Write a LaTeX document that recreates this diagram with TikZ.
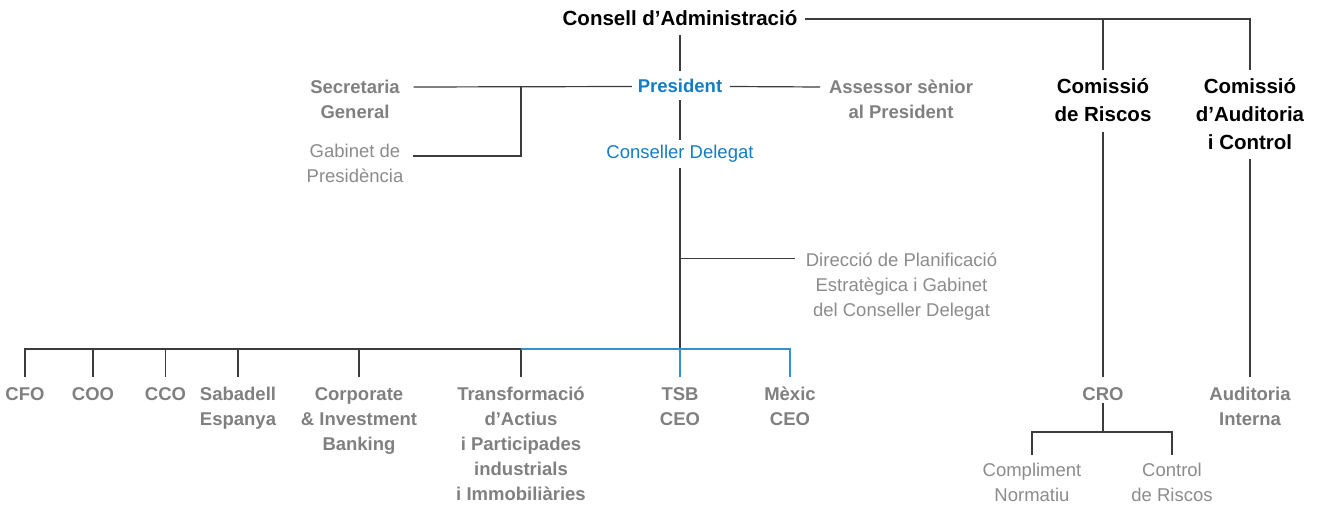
\documentclass[tikz,border=0pt]{standalone}
\usepackage{fontspec}
\setmainfont{Liberation Sans}
\usetikzlibrary{calc}
\definecolor{gb}{RGB}{128,128,128}
\definecolor{gr}{RGB}{140,140,140}
\definecolor{bl}{RGB}{20,125,195}
\definecolor{bline}{RGB}{50,145,210}
\definecolor{lc}{RGB}{60,60,60}
\newcommand\fst{\rule{0pt}{20pt}}
\newcommand\lst{\rule[-6pt]{0pt}{6pt}}
\begin{document}
\begin{tikzpicture}[x=1pt,y=-1pt,
  box/.style={anchor=north,inner sep=0pt,outer sep=0pt,align=center},
  ttl/.style={box,font=\fontsize{20.5}{28}\selectfont\bfseries,text=black},
  gbold/.style={box,font=\fontsize{18.5}{25}\selectfont\bfseries,text=gb},
  greg/.style={box,font=\fontsize{18.5}{25}\selectfont,text=gr},
  bbold/.style={box,font=\fontsize{18.5}{25}\selectfont\bfseries,text=bl},
  breg/.style={box,font=\fontsize{18.5}{25}\selectfont,text=bl},
  ln/.style={draw=lc,line width=1.2pt},
  bln/.style={draw=bline,line width=1.2pt}]
\path[use as bounding box,fill=white] (0,0) rectangle (1319,505);

\node[ttl] (cons) at (680,6) {\fst Consell d’Administració\lst};
\node[bbold] (pres) at (680,73) {\fst President\lst};
\node[gbold] (sec) at (355,73.5) {\fst Secretaria\\General\lst};
\node[greg] (gab) at (355,138) {\fst Gabinet de\\Presidència\lst};
\node[gbold] (ases) at (901,73.5) {\fst Assessor sènior\\al President\lst};
\node[breg] (cd) at (680,139) {\fst Conseller Delegat\lst};
\node[greg] (dir) at (901.5,246) {\fst Direcció de Planificació\\Estratègica i Gabinet\\del Conseller Delegat\lst};
\node[ttl] (crisc) at (1103,74) {\fst Comissió\\de Riscos\lst};
\node[ttl] (caud) at (1250,74) {\fst Comissió\\d’Auditoria\\i Control\lst};

\node[gbold] (cfo) at (25,380) {\fst CFO\lst};
\node[gbold] (coo) at (93,380) {\fst COO\lst};
\node[gbold] (cco) at (165.5,380) {\fst CCO\lst};
\node[gbold] (sab) at (238,380) {\fst Sabadell\\Espanya\lst};
\node[gbold] (corp) at (359,380) {\fst Corporate\\\& Investment\\Banking\lst};
\node[gbold] (trans) at (521,380) {\fst Transformació\\d’Actius\\i Participades\\industrials\\i Immobiliàries\lst};
\node[gbold] (tsb) at (680,380) {\fst TSB\\CEO\lst};
\node[gbold] (mex) at (790,380) {\fst Mèxic\\CEO\lst};
\node[gbold] (cro) at (1103,380) {\fst CRO\lst};
\node[gbold] (audi) at (1250,380) {\fst Auditoria\\Interna\lst};
\node[greg] (compl) at (1032,456) {\fst Compliment\\Normatiu\lst};
\node[greg] (ctrl) at (1172,456) {\fst Control\\de Riscos\lst};

% junctions
\coordinate (bus) at (680,349);
\coordinate (secj) at (521,87);
\coordinate (presL) at ($(pres.north west)+(-6pt,-13.5pt)$);
\coordinate (secR) at ($(sec.north east)+(14pt,-13.5pt)$);
\coordinate (gabR) at ($(gab.north east)+(10pt,-18pt)$);
\coordinate (dirin) at ($(dir.north west)+(-11pt,-12.5pt)$);
\coordinate (croj) at ($(cro.south)+(0,-26pt)$);

% top
\draw[ln] ([xshift=8pt]cons.east) -| ([yshift=4pt]caud.north);
\draw[ln] ([yshift=4pt]crisc.north) -- (crisc.north |- cons.east);
\draw[ln] ([yshift=-3pt]cons.south) -- ([yshift=1.5pt]pres.north);
\draw[ln] (secR) -- (presL);
\draw[ln] (gabR) -| (secj);
\draw[ln] ($(pres.north east)+(8pt,-13.5pt)$) -- ($(ases.north west)+(-9pt,-13.5pt)$);
\draw[ln] ([yshift=-1pt]pres.south) -- ([yshift=-1pt]cd.north);
\draw[ln] ([yshift=-3pt]cd.south) -- (bus);
\draw[ln] (dirin) -- (bus |- dirin);

% bus
\draw[ln] ([yshift=3pt]cfo.north) |- (trans.north |- bus) -- ([yshift=3pt]trans.north);
\foreach \n in {coo,cco,sab,corp}{\draw[ln] (\n.north |- bus) -- ([yshift=3pt]\n.north);}
\draw[bln] (trans.north |- bus) -| ([yshift=3pt]mex.north);
\draw[bln] (bus) -- ([yshift=3pt]tsb.north);

% right
\draw[ln] ([yshift=-4pt]crisc.south) -- ([yshift=3pt]cro.north);
\draw[ln] ([yshift=-3pt]caud.south) -- ([yshift=3pt]audi.north);
\draw[ln] ([yshift=3pt]cro.south) -- (croj);
\draw[ln] ([yshift=1pt]compl.north) |- (croj) -| ([yshift=1pt]ctrl.north);
\end{tikzpicture}
\end{document}
